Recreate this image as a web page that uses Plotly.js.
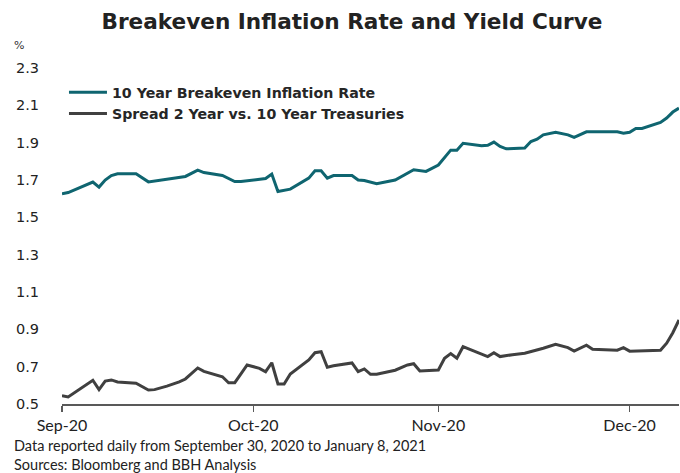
<!DOCTYPE html>
<html>
<head>
<meta charset="utf-8">
<script src="https://cdn.plot.ly/plotly-3.0.1.min.js"></script>
<style>html,body{margin:0;padding:0;background:#fff;}#chart{width:680px;height:473px;}</style>
</head>
<body>
<div id="chart"></div>
<script>
// ---- Data ----
const breakevenDates = ["2020-09-30","2020-10-01","2020-10-05","2020-10-06","2020-10-07","2020-10-08","2020-10-09","2020-10-12","2020-10-14","2020-10-16","2020-10-20","2020-10-22","2020-10-23","2020-10-26","2020-10-28","2020-10-29","2020-11-01","2020-11-02","2020-11-03","2020-11-04","2020-11-06","2020-11-09","2020-11-10","2020-11-11","2020-11-12","2020-11-13","2020-11-16","2020-11-17","2020-11-18","2020-11-20","2020-11-23","2020-11-25","2020-11-26","2020-11-28","2020-11-30","2020-12-02","2020-12-03","2020-12-04","2020-12-07","2020-12-08","2020-12-09","2020-12-10","2020-12-11","2020-12-14","2020-12-15","2020-12-16","2020-12-17","2020-12-19","2020-12-21","2020-12-22","2020-12-24","2020-12-29","2020-12-30","2020-12-31","2021-01-01","2021-01-02","2021-01-05","2021-01-06","2021-01-07","2021-01-08"];
const breakevenValues = [1.626,1.633,1.689,1.662,1.700,1.724,1.733,1.733,1.690,1.700,1.719,1.753,1.740,1.724,1.692,1.692,1.706,1.708,1.732,1.638,1.651,1.710,1.749,1.749,1.710,1.724,1.724,1.700,1.697,1.680,1.700,1.737,1.755,1.746,1.780,1.860,1.860,1.897,1.883,1.886,1.903,1.880,1.867,1.871,1.906,1.919,1.942,1.955,1.942,1.928,1.958,1.958,1.951,1.956,1.976,1.976,2.008,2.032,2.064,2.085];

const spreadDates = ["2020-09-30","2020-10-01","2020-10-05","2020-10-06","2020-10-07","2020-10-08","2020-10-09","2020-10-12","2020-10-14","2020-10-15","2020-10-17","2020-10-19","2020-10-20","2020-10-22","2020-10-23","2020-10-26","2020-10-27","2020-10-28","2020-10-29","2020-10-30","2020-11-01","2020-11-02","2020-11-03","2020-11-04","2020-11-05","2020-11-06","2020-11-09","2020-11-10","2020-11-11","2020-11-12","2020-11-13","2020-11-16","2020-11-17","2020-11-18","2020-11-19","2020-11-20","2020-11-23","2020-11-25","2020-11-26","2020-11-27","2020-11-30","2020-12-01","2020-12-02","2020-12-03","2020-12-04","2020-12-08","2020-12-09","2020-12-10","2020-12-12","2020-12-14","2020-12-17","2020-12-19","2020-12-21","2020-12-22","2020-12-24","2020-12-25","2020-12-29","2020-12-30","2020-12-31","2021-01-05","2021-01-06","2021-01-07","2021-01-08"];
const spreadValues = [0.545,0.538,0.627,0.577,0.623,0.629,0.618,0.611,0.575,0.577,0.596,0.618,0.634,0.693,0.675,0.646,0.614,0.614,0.661,0.709,0.691,0.673,0.721,0.607,0.607,0.661,0.736,0.775,0.780,0.697,0.705,0.720,0.673,0.688,0.659,0.659,0.681,0.709,0.716,0.677,0.682,0.745,0.770,0.745,0.807,0.754,0.775,0.754,0.764,0.772,0.799,0.820,0.802,0.784,0.815,0.793,0.788,0.802,0.783,0.788,0.826,0.882,0.950];

const seriesNames = ["10 Year Breakeven Inflation Rate", "Spread 2 Year vs. 10 Year Treasuries"];
const xTickVals = ["2020-09-30","2020-10-31","2020-11-30","2020-12-31"];
const xTickText = ["Sep-20","Oct-20","Nov-20","Dec-20"];
const yTickVals = [0.5,0.7,0.9,1.1,1.3,1.5,1.7,1.9,2.1,2.3];
const yTickText = ["0.5","0.7","0.9","1.1","1.3","1.5","1.7","1.9","2.1","2.3"];
const titleText = "Breakeven Inflation Rate and Yield Curve";
const noteText = "Data reported daily from September 30, 2020 to January 8, 2021<br>Sources: Bloomberg and BBH Analysis";

// ---- Chart ----
const traces = [
  {x: breakevenDates, y: breakevenValues, name: seriesNames[0], type: "scatter", mode: "lines",
   line: {color: "#0f6570", width: 3}, legendgroup: "a", hoverinfo: "skip"},
  {x: spreadDates, y: spreadValues, name: seriesNames[1], type: "scatter", mode: "lines",
   line: {color: "#404040", width: 3}, legendgroup: "b", hoverinfo: "skip"}
];

const layout = {
  width: 680, height: 473,
  margin: {l: 62, r: 1, t: 68, b: 68.5, pad: 0},
  paper_bgcolor: "#ffffff", plot_bgcolor: "#ffffff",
  showlegend: true,
  title: {text: titleText, x: 0.5176, xanchor: "center", xref: "container",
          y: 0.9556, yanchor: "middle", yref: "container",
          font: {family: "DejaVu Sans, Verdana, sans-serif", size: 21.6, color: "#222222", weight: "bold"}},
  legend: {x: 0.0032, xanchor: "left", y: 0.975, yanchor: "top", bgcolor: "rgba(0,0,0,0)",
           font: {family: "DejaVu Sans, Verdana, sans-serif", size: 14.2, color: "#262626", weight: "bold"},
           tracegroupgap: 6, itemwidth: 38, traceorder: "normal"},
  xaxis: {type: "date", range: ["2020-09-30", "2021-01-08"], tickmode: "array",
          tickvals: xTickVals, ticktext: xTickText, showgrid: false, zeroline: false,
          showline: true, linecolor: "#595959", linewidth: 2,
          ticks: "outside", ticklen: 6, tickwidth: 1.5, tickcolor: "#595959",
          tickfont: {family: "Lato, sans-serif", size: 16, color: "#222222"}},
  yaxis: {range: [0.5, 2.3], tickmode: "array", tickvals: yTickVals, ticktext: yTickText,
          showgrid: false, zeroline: false, showline: false, ticks: "",
          ticklabelstandoff: 22,
          tickfont: {family: "DejaVu Sans, Verdana, sans-serif", size: 14.5, color: "#222222"}},
  annotations: [
    {text: "%", xref: "paper", yref: "paper", x: -0.069, y: 1.067, xanchor: "center", yanchor: "middle",
     showarrow: false, font: {family: "DejaVu Sans, sans-serif", size: 11, color: "#333333"}},
    {text: noteText, xref: "paper", yref: "paper", x: -0.081, y: -0.153, xanchor: "left", yanchor: "middle",
     align: "left", showarrow: false, font: {family: "Lato, sans-serif", size: 14.5, color: "#222222"}}
  ]
};

Plotly.newPlot("chart", traces, layout, {staticPlot: true, displayModeBar: false});
</script>
</body>
</html>
